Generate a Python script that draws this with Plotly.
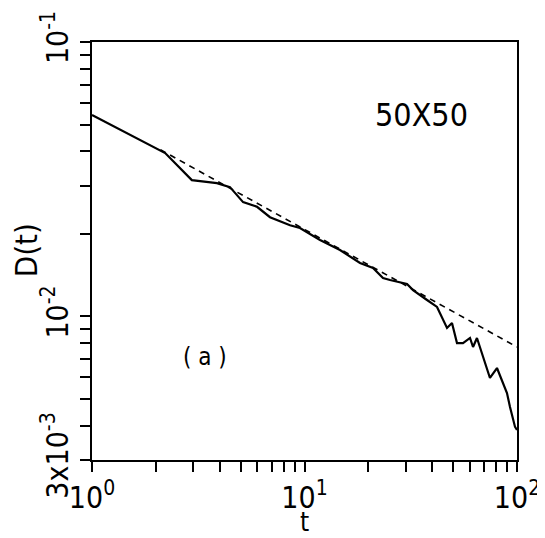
import plotly.graph_objects as go

# Solid curve D(t) (50x50 lattice)
t_data = [1.0, 1.5, 2.21, 2.95, 3.87, 4.46, 5.14, 5.98, 6.88, 8.55, 9.52,
          11.83, 14.69, 18.25, 21.01, 23.41, 25.26, 30.37, 32.41, 37.72, 42.03,
          46.84, 49.44, 52.2, 55.7, 60.1, 62.1, 64.8, 69.2, 74.6, 80.5, 89.7,
          92.7, 97.9, 100.0]
d_data = [0.0542, 0.0462, 0.0394, 0.0314, 0.0306, 0.0296, 0.0261, 0.0251, 0.0230, 0.0215, 0.0210,
          0.0190, 0.01746, 0.01566, 0.01502, 0.01381, 0.01358, 0.01313, 0.01248, 0.01148, 0.01083,
          0.00908, 0.00947, 0.00800, 0.00800, 0.00835, 0.00774, 0.00835, 0.00712, 0.00597, 0.00649, 0.00526,
          0.00468, 0.00396, 0.00386]

# Dashed power-law fit
t_fit = [2.1, 100.0]
d_fit = [0.0405, 0.00774]

# Axis ticks
x_tickvals = [1, 2, 3, 4, 5, 6, 7, 8, 9, 10, 20, 30, 40, 50, 60, 70, 80, 90, 100]
x_ticktext = ["10<sup>0</sup>"] + [""] * 8 + ["10<sup>1</sup>"] + [""] * 8 + ["10<sup>2</sup>"]
y_tickvals = [0.003, 0.004, 0.005, 0.006, 0.007, 0.008, 0.009, 0.01,
              0.02, 0.03, 0.04, 0.05, 0.06, 0.07, 0.08, 0.09, 0.1]
y_ticktext = ["3x10<sup>-3</sup>"] + [""] * 6 + ["10<sup>-2</sup>"] + [""] * 8 + ["10<sup>-1</sup>"]

FONT = "Liberation Sans Narrow, DejaVu Sans Condensed, Liberation Sans, sans-serif"

fig = go.Figure()
fig.add_trace(go.Scatter(x=t_fit, y=d_fit, mode="lines",
                         line=dict(color="black", width=1.6, dash="6px,5px"),
                         showlegend=False))
fig.add_trace(go.Scatter(x=t_data, y=d_data, mode="lines",
                         line=dict(color="black", width=2.2),
                         showlegend=False))

fig.update_layout(
    width=545, height=538,
    margin=dict(l=84, r=36, t=34, b=86),
    paper_bgcolor="white", plot_bgcolor="white",
    font=dict(family=FONT, size=30, color="black"),
    annotations=[
        dict(x=0.776, y=0.825, xref="paper", yref="paper", text="50X50",
             xanchor="center", yanchor="middle",
             showarrow=False, font=dict(family=FONT, size=32, color="black")),
        dict(x=0.266, y=0.246, xref="paper", yref="paper", text="( a )",
             xanchor="center", yanchor="middle",
             showarrow=False, font=dict(family=FONT, size=24, color="black")),
        dict(x=0.5, y=-0.148, xref="paper", yref="paper", text="t",
             xanchor="center", yanchor="middle",
             showarrow=False, font=dict(family=FONT, size=26, color="black")),
        dict(x=-0.155, y=0.502, xref="paper", yref="paper", text="D(t)",
             xanchor="center", yanchor="middle", textangle=-90,
             showarrow=False, font=dict(family=FONT, size=31, color="black")),
    ],
)
fig.update_xaxes(
    type="log", range=[0, 2], tickmode="array", automargin=False,
    tickvals=x_tickvals, ticktext=x_ticktext, tickangle=0,
    ticks="outside", ticklen=10, tickwidth=1.5, tickcolor="black",
    showline=True, linecolor="black", linewidth=2, mirror=True,
    showgrid=False, zeroline=False,
    tickfont=dict(family=FONT, size=30),
)
fig.update_yaxes(
    type="log", range=[-2.5229, -1], tickmode="array", automargin=False,
    tickvals=y_tickvals, ticktext=y_ticktext, tickangle=-90,
    ticks="outside", ticklen=10, tickwidth=1.5, tickcolor="black",
    showline=True, linecolor="black", linewidth=2, mirror=True,
    showgrid=False, zeroline=False,
    tickfont=dict(family=FONT, size=30),
)

fig.write_html("out.html")
